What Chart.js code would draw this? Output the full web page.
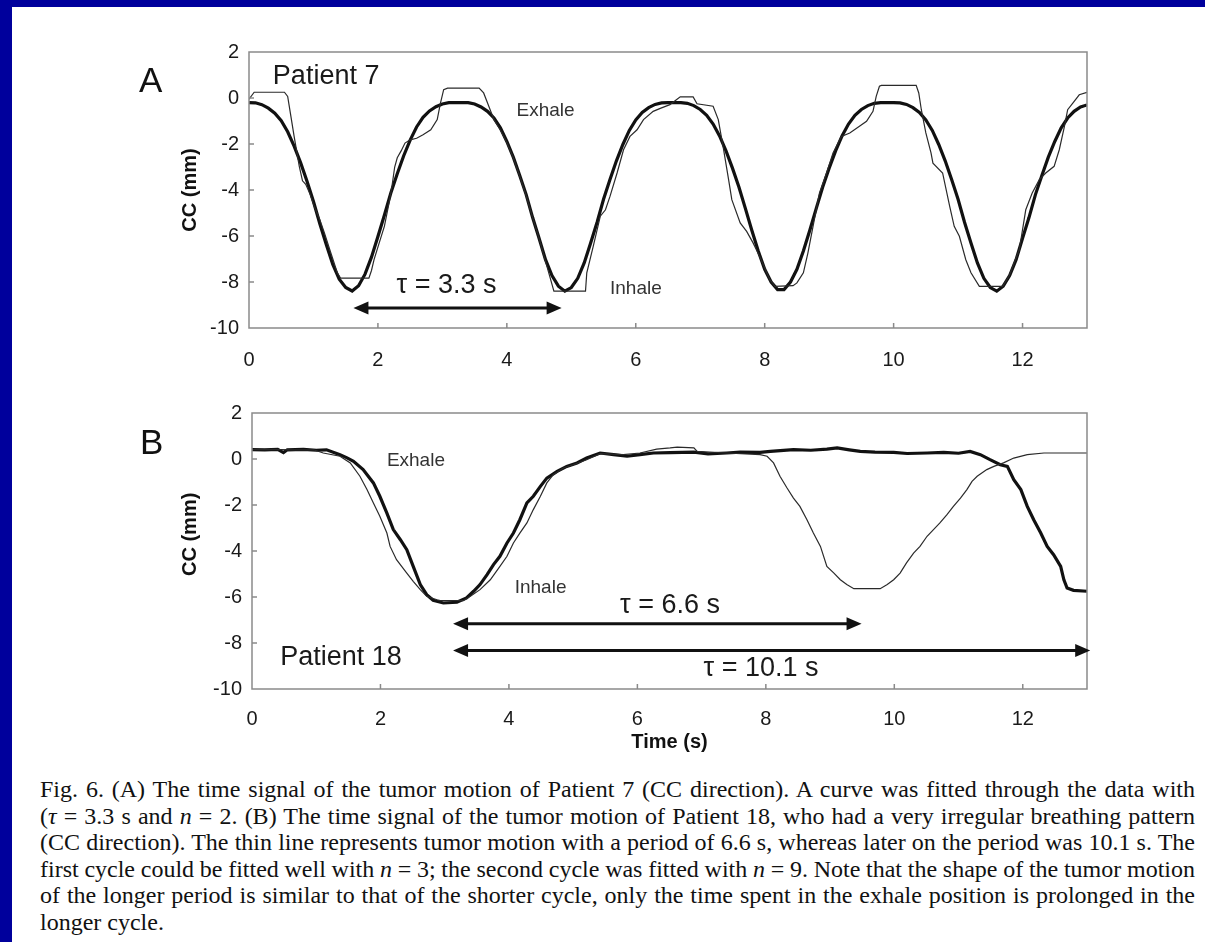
<!DOCTYPE html>
<html>
<head>
<meta charset="utf-8">
<script src="https://cdn.jsdelivr.net/npm/chart.js@4.4.0/dist/chart.umd.min.js"></script>
<style>
    body { margin: 0; width: 1205px; height: 942px; background: #fff; position: relative; overflow: hidden; font-family: "Liberation Sans", Arial, sans-serif; }
    #frameTop { position: absolute; left: 0; top: 0; width: 1205px; height: 7px; background: #00009c; }
    #frameLeft { position: absolute; left: 0; top: 0; width: 12px; height: 942px; background: #00009c; }
    canvas { position: absolute; left: 0; }
    #cA { top: 0; }
    #cB { top: 390px; }
    .letter { position: absolute; font-size: 35px; color: #111; line-height: 35px; }
    #caption { position: absolute; left: 40px; top: 776px; width: 1155px; font-family: "Liberation Serif", "Times New Roman", serif; font-size: 24px; line-height: 26.6px; color: #111; }
    .cap-line span { white-space: nowrap; }
</style>
</head>
<body>
<div id="frameTop"></div>
<div id="frameLeft"></div>
<canvas id="cA" width="1205" height="390"></canvas>
<canvas id="cB" width="1205" height="372"></canvas>
<div class="letter" style="left:139px; top:62px;">A</div>
<div class="letter" style="left:140px; top:424px;">B</div>
<div id="caption">
    <div class="cap-line just"><span>Fig. 6. (A) The time signal of the tumor motion of Patient 7 (CC direction). A curve was fitted through the data with</span></div>
    <div class="cap-line just"><span>(<i>τ</i> = 3.3 s and <i>n</i> = 2. (B) The time signal of the tumor motion of Patient 18, who had a very irregular breathing pattern</span></div>
    <div class="cap-line just"><span>(CC direction). The thin line represents tumor motion with a period of 6.6 s, whereas later on the period was 10.1 s. The</span></div>
    <div class="cap-line just"><span>first cycle could be fitted well with <i>n</i> = 3; the second cycle was fitted with <i>n</i> = 9. Note that the shape of the tumor motion</span></div>
    <div class="cap-line just"><span>of the longer period is similar to that of the shorter cycle, only the time spent in the exhale position is prolonged in the</span></div>
    <div class="cap-line"><span>longer cycle.</span></div>
</div>
<script>
// axis ticks
const xTickValues = [0, 2, 4, 6, 8, 10, 12];
const yTickValues = [2, 0, -2, -4, -6, -8, -10];

// Patient 7: fitted curve (thick), sampled every 0.1 s
const timeA = [
    0, 0.1, 0.2, 0.3, 0.4, 0.5, 0.6, 0.7, 0.8, 0.9,
    1, 1.1, 1.2, 1.3, 1.4, 1.5, 1.6, 1.7, 1.8, 1.9,
    2, 2.1, 2.2, 2.3, 2.4, 2.5, 2.6, 2.7, 2.8, 2.9,
    3, 3.1, 3.2, 3.3, 3.4, 3.5, 3.6, 3.7, 3.8, 3.9,
    4, 4.1, 4.2, 4.3, 4.4, 4.5, 4.6, 4.7, 4.8, 4.9,
    5, 5.1, 5.2, 5.3, 5.4, 5.5, 5.6, 5.7, 5.8, 5.9,
    6, 6.1, 6.2, 6.3, 6.4, 6.5, 6.6, 6.7, 6.8, 6.9,
    7, 7.1, 7.2, 7.3, 7.4, 7.5, 7.6, 7.7, 7.8, 7.9,
    8, 8.1, 8.2, 8.3, 8.4, 8.5, 8.6, 8.7, 8.8, 8.9,
    9, 9.1, 9.2, 9.3, 9.4, 9.5, 9.6, 9.7, 9.8, 9.9,
    10, 10.1, 10.2, 10.3, 10.4, 10.5, 10.6, 10.7, 10.8, 10.9,
    11, 11.1, 11.2, 11.3, 11.4, 11.5, 11.6, 11.7, 11.8, 11.9,
    12, 12.1, 12.2, 12.3, 12.4, 12.5, 12.6, 12.7, 12.8, 12.9,
    13
];
const fitA = [
    -0.2, -0.21, -0.29, -0.44, -0.66, -0.99, -1.47, -2.09, -2.81, -3.62,
    -4.5, -5.48, -6.38, -7.24, -7.88, -8.24, -8.39, -8.16, -7.66, -6.92,
    -6.02, -5.1, -4.13, -3.29, -2.51, -1.83, -1.26, -0.84, -0.56, -0.38,
    -0.26, -0.2, -0.2, -0.2, -0.2, -0.26, -0.39, -0.58, -0.87, -1.3,
    -1.89, -2.57, -3.37, -4.2, -5.2, -6.1, -7.03, -7.72, -8.18, -8.4,
    -8.24, -7.84, -7.17, -6.3, -5.4, -4.4, -3.54, -2.73, -2.02, -1.41,
    -0.95, -0.63, -0.42, -0.28, -0.21, -0.2, -0.2, -0.2, -0.23, -0.33,
    -0.5, -0.75, -1.13, -1.65, -2.3, -3.05, -3.87, -4.8, -5.75, -6.65,
    -7.45, -8.0, -8.33, -8.33, -8.0, -7.45, -6.65, -5.75, -4.8, -3.87,
    -3.05, -2.3, -1.65, -1.13, -0.75, -0.5, -0.33, -0.23, -0.2, -0.2,
    -0.2, -0.21, -0.28, -0.42, -0.63, -0.95, -1.41, -2.02, -2.73, -3.54,
    -4.4, -5.4, -6.3, -7.17, -7.84, -8.24, -8.4, -8.18, -7.72, -7.03,
    -6.1, -5.2, -4.2, -3.37, -2.57, -1.89, -1.3, -0.87, -0.58, -0.39,
    -0.3
];

// Patient 7: measured motion (thin)
const dataATime = [
    0, 0.08, 0.55, 0.6, 0.65, 0.7, 0.78, 0.83, 0.88, 0.95,
    1.01, 1.1, 1.17, 1.27, 1.37, 1.42, 1.86, 1.9, 1.94, 2.02,
    2.1, 2.17, 2.22, 2.26, 2.3, 2.36, 2.42, 2.5, 2.6, 2.7,
    2.82, 2.92, 2.97, 3.02, 3.08, 3.57, 3.64, 3.72, 3.8, 3.9,
    4, 4.1, 4.2, 4.3, 4.4, 4.5, 4.6, 4.67, 4.73, 5.22,
    5.24, 5.34, 5.45, 5.53, 5.6, 5.71, 5.81, 5.91, 6.02, 6.12,
    6.27, 6.38, 6.53, 6.62, 6.69, 6.89, 6.95, 7.2, 7.28, 7.36,
    7.44, 7.49, 7.62, 7.72, 7.82, 7.92, 8.08, 8.16, 8.44, 8.5,
    8.6, 8.67, 8.75, 8.85, 8.96, 9.06, 9.19, 9.32, 9.47, 9.58,
    9.68, 9.73, 9.78, 9.81, 10.35, 10.39, 10.43, 10.5, 10.58, 10.61,
    10.76, 10.87, 10.94, 11.02, 11.12, 11.2, 11.33, 11.69, 11.79, 11.95,
    12.05, 12.15, 12.26, 12.36, 12.49, 12.57, 12.65, 12.7, 12.78, 12.88,
    13
];
const dataAValue = [
    -0.05, 0.25, 0.25, 0.07, -0.8, -1.67, -2.97, -3.6, -3.75, -4.2,
    -4.7, -5.3, -5.87, -6.74, -7.6, -7.83, -7.83, -7.5, -7.03, -6.3,
    -5.58, -4.6, -3.8, -3.0, -2.6, -2.3, -1.96, -1.82, -1.75, -1.6,
    -1.38, -0.94, -0.22, 0.36, 0.43, 0.43, 0.22, -0.36, -0.94, -1.4,
    -1.95, -2.6, -3.4, -4.25, -5.2, -6.1, -7.1, -7.8, -8.4, -8.4,
    -7.6, -6.45, -5.14, -4.86, -4.28, -3.26, -2.25, -1.67, -1.38, -0.94,
    -0.58, -0.45, -0.29, -0.1, 0.05, 0.05, -0.25, -0.36, -0.94, -2.2,
    -3.55, -4.42, -5.43, -5.8, -6.3, -6.88, -7.9, -8.19, -8.16, -8.04,
    -7.6, -6.74, -5.58, -4.13, -3.26, -2.39, -1.67, -1.52, -1.23, -1.01,
    -0.58, 0.07, 0.51, 0.55, 0.55, 0.22, -0.51, -1.52, -2.39, -2.83,
    -3.26, -4.71, -5.58, -6.01, -7.03, -7.6, -8.19, -8.19, -7.75, -6.59,
    -4.86, -4.13, -3.55, -3.26, -2.97, -2.25, -1.23, -0.51, -0.22, 0.14,
    0.25
];

// Patient 18: longer cycle (thick)
const longBTime = [
    0, 0.2, 0.4, 0.49, 0.55, 0.8, 1.0, 1.16, 1.37, 1.48,
    1.58, 1.73, 1.89, 1.99, 2.1, 2.2, 2.31, 2.41, 2.51, 2.62,
    2.72, 2.82, 2.98, 3.19, 3.34, 3.45, 3.55, 3.66, 3.76, 3.86,
    3.97, 4.07, 4.17, 4.28, 4.38, 4.49, 4.59, 4.75, 4.9, 5.06,
    5.21, 5.42, 5.63, 5.84, 6.04, 6.25, 6.51, 6.88, 7.1, 7.39,
    7.6, 7.91, 8.07, 8.43, 8.7, 8.95, 9.11, 9.3, 9.47, 9.7,
    9.99, 10.2, 10.51, 10.77, 11.0, 11.18, 11.34, 11.49, 11.65, 11.76,
    11.86, 11.97, 12.07, 12.17, 12.28, 12.38, 12.48, 12.59, 12.64, 12.69,
    12.79, 13
];
const longBValue = [
    0.41, 0.4, 0.42, 0.28, 0.4, 0.42, 0.38, 0.4, 0.19, 0.05,
    -0.1, -0.46, -1.04, -1.62, -2.35, -3.07, -3.51, -3.94, -4.67, -5.46,
    -5.9, -6.14, -6.26, -6.23, -6.04, -5.75, -5.46, -5.03, -4.59, -4.23,
    -3.65, -3.22, -2.64, -1.91, -1.62, -1.19, -0.83, -0.54, -0.32, -0.17,
    0.04, 0.26, 0.19, 0.12, 0.19, 0.26, 0.28, 0.3, 0.22, 0.26,
    0.3, 0.29, 0.33, 0.41, 0.38, 0.43, 0.48, 0.4, 0.33, 0.3,
    0.29, 0.24, 0.26, 0.29, 0.25, 0.33, 0.19, -0.03, -0.25, -0.32,
    -0.9, -1.33, -2.06, -2.64, -3.22, -3.8, -4.16, -4.67, -5.25, -5.61,
    -5.71, -5.75
];

// Patient 18: shorter cycle (thin)
const shortBTime = [
    0, 0.3, 0.6, 0.96, 1.11, 1.37, 1.53, 1.68, 1.79, 1.89,
    1.99, 2.1, 2.15, 2.25, 2.41, 2.51, 2.62, 2.72, 2.88, 2.93,
    3.29, 3.4, 3.55, 3.71, 3.86, 3.97, 4.07, 4.17, 4.28, 4.38,
    4.49, 4.59, 4.69, 4.85, 5.0, 5.21, 5.42, 5.78, 6.04, 6.3,
    6.51, 6.62, 6.88, 6.93, 7.39, 7.91, 8.02, 8.12, 8.22, 8.33,
    8.43, 8.53, 8.64, 8.74, 8.85, 8.95, 9.06, 9.16, 9.26, 9.37,
    9.78, 9.89, 9.99, 10.09, 10.19, 10.3, 10.4, 10.51, 10.61, 10.71,
    10.82, 10.92, 11.03, 11.13, 11.21, 11.29, 11.44, 11.55, 11.7, 11.86,
    12.07, 12.33, 13
];
const shortBValue = [
    0.41, 0.42, 0.4, 0.4, 0.26, 0.12, -0.17, -0.75, -1.33, -1.91,
    -2.49, -3.22, -3.8, -4.38, -4.96, -5.32, -5.68, -5.97, -6.12, -6.16,
    -6.16, -5.97, -5.68, -5.25, -4.67, -4.23, -3.65, -3.22, -2.78, -2.2,
    -1.62, -1.04, -0.68, -0.39, -0.25, -0.03, 0.23, 0.19, 0.26, 0.43,
    0.48, 0.52, 0.48, 0.33, 0.26, 0.19, 0.12, -0.17, -0.75, -1.26,
    -1.7, -2.06, -2.64, -3.22, -3.8, -4.67, -4.96, -5.25, -5.46, -5.64,
    -5.64, -5.46, -5.25, -4.96, -4.52, -4.09, -3.8, -3.36, -3.07, -2.78,
    -2.42, -2.06, -1.7, -1.33, -0.97, -0.75, -0.46, -0.32, -0.17, 0.04,
    0.19, 0.26, 0.26
];

// annotations (text baseline-left and arrows, in data units)
const notesA = [
    { text: "Patient 7", x: 0.37, y: 0.61, size: 27, color: "#1a1a1a" },
    { text: "Exhale", x: 4.15, y: -0.77, size: 19, color: "#333" },
    { text: "Inhale", x: 5.6, y: -8.51, size: 19, color: "#333" },
    { text: "τ = 3.3 s", x: 2.29, y: -8.48, size: 27, color: "#1a1a1a" }
];
const arrowsA = [{ from: 1.62, to: 4.85, y: -9.13 }];

const notesB = [
    { text: "Exhale", x: 2.1, y: -0.32, size: 19, color: "#333" },
    { text: "Inhale", x: 4.09, y: -5.83, size: 19, color: "#333" },
    { text: "Patient 18", x: 0.44, y: -8.94, size: 27, color: "#1a1a1a" },
    { text: "τ = 6.6 s", x: 5.73, y: -6.7, size: 27, color: "#1a1a1a" },
    { text: "τ = 10.1 s", x: 7.03, y: -9.45, size: 27, color: "#1a1a1a" }
];
const arrowsB = [
    { from: 3.13, to: 9.49, y: -7.16 },
    { from: 3.13, to: 13.05, y: -8.33 }
];

const FONT = '"Liberation Sans", Arial, sans-serif';

function toPoints(xs, ys) {
    return xs.map((x, i) => ({ x: x, y: ys[i] }));
}

function arrowHead(ctx, tipX, y, dir) {
    ctx.beginPath();
    ctx.moveTo(tipX, y);
    ctx.lineTo(tipX - dir * 15, y - 6.5);
    ctx.lineTo(tipX - dir * 15, y + 6.5);
    ctx.closePath();
    ctx.fill();
}

function makeFrame(notes, arrows) {
    return {
        id: "frame",
        afterDatasetsDraw(chart) {
            const { ctx, chartArea: a } = chart;
            const x = chart.scales.x;
            const y = chart.scales.y;
            ctx.save();

            ctx.strokeStyle = "#8a8a8a";
            ctx.lineWidth = 1.5;
            ctx.strokeRect(a.left, a.top, a.right - a.left, a.bottom - a.top);

            // small inward tick marks
            ctx.beginPath();
            xTickValues.slice(1).forEach(v => {
                const px = x.getPixelForValue(v);
                ctx.moveTo(px, a.bottom);
                ctx.lineTo(px, a.bottom - 5);
            });
            yTickValues.slice(1, -1).forEach(v => {
                const py = y.getPixelForValue(v);
                ctx.moveTo(a.left, py);
                ctx.lineTo(a.left + 5, py);
            });
            ctx.stroke();

            ctx.strokeStyle = "#111";
            ctx.fillStyle = "#111";
            ctx.lineWidth = 3;
            arrows.forEach(ar => {
                const x1 = x.getPixelForValue(ar.from);
                const x2 = x.getPixelForValue(ar.to);
                const py = y.getPixelForValue(ar.y);
                ctx.beginPath();
                ctx.moveTo(x1 + 10, py);
                ctx.lineTo(x2 - 10, py);
                ctx.stroke();
                arrowHead(ctx, x1, py, -1);
                arrowHead(ctx, x2, py, 1);
            });

            ctx.textBaseline = "alphabetic";
            ctx.textAlign = "left";
            notes.forEach(n => {
                ctx.font = n.size + "px " + FONT;
                ctx.fillStyle = n.color;
                ctx.fillText(n.text, x.getPixelForValue(n.x), y.getPixelForValue(n.y));
            });
            ctx.restore();
        }
    };
}

function buildChart(canvasId, datasets, cfg) {
    return new Chart(document.getElementById(canvasId), {
        type: "line",
        data: { datasets: datasets },
        options: {
            responsive: false,
            animation: false,
            events: [],
            layout: { padding: cfg.padding },
            plugins: { legend: { display: false }, tooltip: { enabled: false } },
            elements: { point: { radius: 0 }, line: { tension: 0 } },
            scales: {
                x: {
                    type: "linear",
                    min: 0,
                    max: 13,
                    grid: { display: false, drawTicks: false },
                    border: { display: false },
                    afterBuildTicks: s => { s.ticks = xTickValues.map(v => ({ value: v })); },
                    afterFit: s => { s.height = cfg.xHeight; },
                    ticks: { color: "#1a1a1a", padding: cfg.xPad, maxRotation: 0, font: { family: FONT, size: 20 } },
                    title: cfg.xTitle
                        ? { display: true, text: cfg.xTitle, color: "#111", font: { family: FONT, size: 20, weight: "bold" }, padding: { top: 0, bottom: 4 } }
                        : { display: false }
                },
                y: {
                    min: -10,
                    max: 2,
                    grid: { display: false, drawTicks: false },
                    border: { display: false },
                    afterBuildTicks: s => { s.ticks = yTickValues.map(v => ({ value: v })); },
                    afterFit: s => { s.width = cfg.yWidth; },
                    ticks: { color: "#1a1a1a", padding: 10, font: { family: FONT, size: 20 } },
                    title: { display: true, text: cfg.yTitle, color: "#111", font: { family: FONT, size: 20, weight: "bold" }, padding: { top: 4, bottom: 0 } }
                }
            }
        },
        plugins: [makeFrame(cfg.notes, cfg.arrows)]
    });
}

buildChart("cA", [
    { label: "Measured", data: toPoints(dataATime, dataAValue), borderColor: "#2a2a2a", borderWidth: 1.2 },
    { label: "Fitted", data: toPoints(timeA, fitA), borderColor: "#111", borderWidth: 3.2 }
], {
    padding: { left: 174, right: 118, top: 52, bottom: 12 },
    yWidth: 75, xHeight: 50, xPad: 20,
    yTitle: "CC (mm)", notes: notesA, arrows: arrowsA
});

buildChart("cB", [
    { label: "Shorter cycle", data: toPoints(shortBTime, shortBValue), borderColor: "#2a2a2a", borderWidth: 1.2 },
    { label: "Longer cycle", data: toPoints(longBTime, longBValue), borderColor: "#111", borderWidth: 3.2 }
], {
    padding: { left: 174, right: 118, top: 23, bottom: 4 },
    yWidth: 78, xHeight: 69, xPad: 18,
    yTitle: "      CC (mm)", xTitle: "Time (s)", notes: notesB, arrows: arrowsB
});

// justify each caption line to the full width
const CAP_WIDTH = 1155;
document.querySelectorAll(".cap-line.just span").forEach(span => {
    const natural = span.getBoundingClientRect().width;
    const gaps = (span.textContent.match(/ /g) || []).length;
    if (gaps) span.style.wordSpacing = ((CAP_WIDTH - natural) / gaps) + "px";
});
</script>
</body>
</html>
